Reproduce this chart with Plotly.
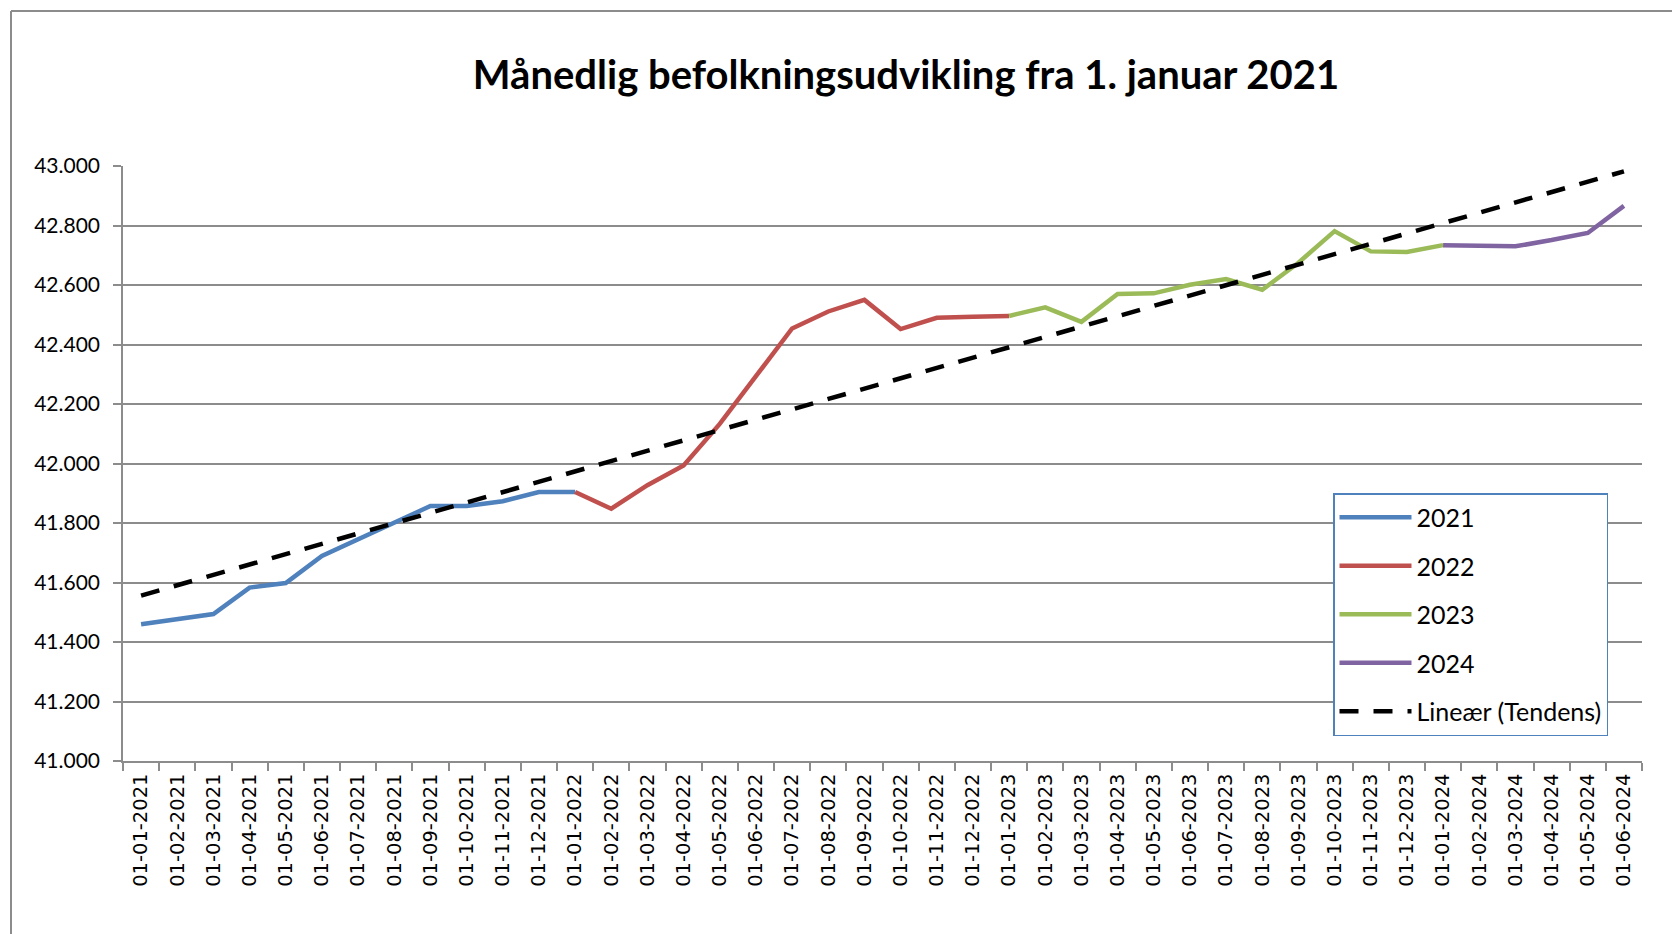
import numpy as np
import plotly.graph_objects as go

# ---- data ----
dates = [
    "01-01-2021", "01-02-2021", "01-03-2021", "01-04-2021", "01-05-2021", "01-06-2021",
    "01-07-2021", "01-08-2021", "01-09-2021", "01-10-2021", "01-11-2021", "01-12-2021",
    "01-01-2022", "01-02-2022", "01-03-2022", "01-04-2022", "01-05-2022", "01-06-2022",
    "01-07-2022", "01-08-2022", "01-09-2022", "01-10-2022", "01-11-2022", "01-12-2022",
    "01-01-2023", "01-02-2023", "01-03-2023", "01-04-2023", "01-05-2023", "01-06-2023",
    "01-07-2023", "01-08-2023", "01-09-2023", "01-10-2023", "01-11-2023", "01-12-2023",
    "01-01-2024", "01-02-2024", "01-03-2024", "01-04-2024", "01-05-2024", "01-06-2024",
]
pop_2021 = [41460, 41477, 41494, 41583, 41598, 41689, 41746, 41800, 41857, 41857, 41873, 41904]
pop_2022 = [41904, 41848, 41927, 41993, 42133, 42292, 42454, 42511, 42550, 42452, 42490, 42493]
pop_2023 = [42496, 42525, 42476, 42570, 42572, 42601, 42620, 42584, 42675, 42781, 42713, 42711]
pop_2024 = [42734, 42732, 42730, 42751, 42775, 42866]

series_names = ["2021", "2022", "2023", "2024"]
series_colors = ["#4F81BD", "#C0504D", "#9BBB59", "#8064A2"]
trend_name = "Lineær (Tendens)"
title_text = "Månedlig befolkningsudvikling fra 1. januar 2021"
y_ticks = [41000, 41200, 41400, 41600, 41800, 42000, 42200, 42400, 42600, 42800, 43000]

# ---- build ----
years = [pop_2021, pop_2022, pop_2023, pop_2024]
all_vals = pop_2021 + pop_2022 + pop_2023 + pop_2024

fig = go.Figure()
start = 0
for i, vals in enumerate(years):
    # each year's line continues to the first month of the next year
    if i + 1 < len(years):
        seg_vals = vals + [years[i + 1][0]]
    else:
        seg_vals = vals
    seg_x = dates[start:start + len(seg_vals)]
    fig.add_trace(go.Scatter(
        x=seg_x, y=seg_vals, mode="lines", name=series_names[i],
        legendgroup=series_names[i],
        line=dict(color=series_colors[i], width=4.5),
    ))
    start += len(vals)

# linear trendline over all values
idx = np.arange(len(all_vals))
slope, intercept = np.polyfit(idx, np.array(all_vals, dtype=float), 1)
trend = slope * idx + intercept
fig.add_trace(go.Scatter(
    x=dates, y=trend, mode="lines", name=trend_name, legendgroup="trend",
    line=dict(color="#000000", width=4.5, dash="19px,15px"),
))

W, H = 1672, 934
L, R, T, B = 123, 30, 166, 173
pw = W - L - R
ph = H - T - B

def px_x(p):
    return (p - L) / pw

def px_y(p):
    return (H - B - p) / ph

grid_col = "#8C8C8C"

fig.update_layout(
    width=W, height=H,
    margin=dict(l=L, r=R, t=T, b=B, autoexpand=False),
    paper_bgcolor="white", plot_bgcolor="white",
    separators=",.",
    title=dict(
        text="<b>" + title_text + "</b>",
        font=dict(family="Lato", size=40, color="#000000"),
        x=px_x(906), xref="paper", xanchor="center",
        y=1 - 75 / H, yref="container", yanchor="middle",
    ),
    xaxis=dict(
        type="category", categoryorder="array", categoryarray=dates,
        tickmode="array", tickvals=dates, ticktext=dates,
        tickangle=-90, tickson="boundaries", ticks="outside", ticklen=8,
        tickcolor=grid_col, tickwidth=1.5, ticklabelstandoff=3,
        showline=True, linecolor=grid_col, linewidth=1.5,
        showgrid=False, zeroline=False,
        tickfont=dict(family="DejaVu Sans", size=19.5, color="#000000"),
        range=[-0.5, len(dates) - 0.5],
    ),
    yaxis=dict(
        range=[41000, 43000], tickmode="array", tickvals=y_ticks,
        tickformat=",.0f",
        ticks="outside", ticklen=8, tickcolor=grid_col, tickwidth=1.5,
        ticklabelstandoff=9,
        showline=True, linecolor=grid_col, linewidth=1.5,
        showgrid=True, gridcolor=grid_col, gridwidth=1.5, zeroline=False,
        tickfont=dict(family="Lato", size=21, color="#000000"),
    ),
    legend=dict(
        x=px_x(1333), y=px_y(493), xanchor="left", yanchor="top",
        bordercolor="#4F81BD", borderwidth=1.5, bgcolor="white",
        font=dict(family="Lato", size=25, color="#000000"),
        tracegroupgap=13, itemwidth=72, traceorder="grouped",
    ),
    showlegend=True,
    shapes=[
        dict(type="line", xref="paper", yref="paper",
             x0=px_x(11), x1=px_x(W + 5), y0=px_y(11), y1=px_y(11),
             line=dict(color="#8C8C8C", width=2)),
        dict(type="line", xref="paper", yref="paper",
             x0=px_x(11), x1=px_x(11), y0=px_y(11), y1=px_y(H + 5),
             line=dict(color="#8C8C8C", width=2)),
    ],
)

fig.write_html(
    "out.html",
    config={"displayModeBar": False},
    post_script="document.body.style.margin='0';document.body.style.overflow='hidden';",
)
